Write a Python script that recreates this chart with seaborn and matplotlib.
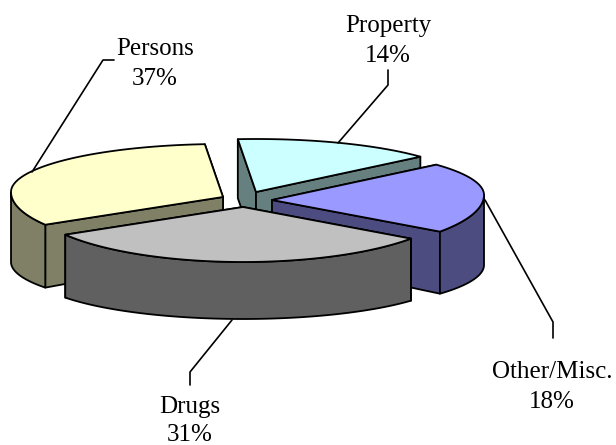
import numpy as np
import pandas as pd
import matplotlib
matplotlib.use("Agg")
import matplotlib.pyplot as plt
import seaborn as sns

# chart data
categories = ["Drugs", "Other/Misc.", "Property", "Persons"]
shares = [31, 18, 14, 37]
top_colors = ["#C0C0C0", "#9999FF", "#CCFFFF", "#FFFFCC"]
side_colors = ["#606060", "#4C4C80", "#668080", "#808066"]

sns.set_theme(style="white")
plt.rcParams["font.family"] = ["Liberation Serif", "DejaVu Serif"]

df = pd.DataFrame({"name": categories, "share": shares, "top": top_colors, "side": side_colors})

# -----------------------------
# pie geometry (pixel-like axes)
# -----------------------------
a = 212              # horizontal radius
start = 217.8        # where the first slice starts
view = complex(-0.09, -0.013)   # fake perspective, squeezes the left side

# where each exploded slice has its tip
tips = {"Drugs": (243, 207), "Other/Misc.": (272, 200),
        "Property": (256, 192), "Persons": (223, 197)}


def project(theta, tip):
    z = np.exp(1j * np.radians(theta))
    z = (z + view) / (1 + np.conj(view) * z)
    # disc is seen from above, near half looks deeper than the far half
    y_top = tip[1] - 5 - np.where(z.imag > 0, 48, 60) * z.imag
    y_bot = tip[1] + 65 - np.where(z.imag > 0, 59, 47) * z.imag
    return tip[0] + a * z.real, y_top, y_bot, z.imag < 0


fig = plt.figure(figsize=(6.16, 4.45), dpi=100)
ax = fig.add_axes([0, 0, 1, 1])
ax.set_xlim(0, 616)
ax.set_ylim(445, 0)
ax.axis("off")

df["theta1"] = start + df["share"].cumsum().shift(fill_value=0) * 3.6
df["theta2"] = start + df["share"].cumsum() * 3.6

# back slices first
for name in ["Property", "Persons", "Other/Misc.", "Drugs"]:
    row = df[df["name"] == name].iloc[0]
    tip = tips[name]
    x, y, y2, front = project(np.linspace(row["theta1"], row["theta2"], 200), tip)
    edge = dict(edgecolor="black", linewidth=1.3, joinstyle="round")

    # cut walls, the one further back goes first
    ends = sorted([(x[0], y[0], y2[0]), (x[-1], y[-1], y2[-1])], key=lambda p: p[1])
    for ex, ey, ey2 in ends:
        ax.fill([tip[0], ex, ex, tip[0]], [tip[1], ey, ey2, tip[1] + 58],
                facecolor=row["side"], **edge)
    # outer wall, only the near part of the rim can be seen
    if front.any():
        fx, fy, fy2 = x[front], y[front], y2[front]
        ax.fill(np.r_[fx, fx[::-1]], np.r_[fy, fy2[::-1]], facecolor=row["side"], **edge)
    # top face
    ax.fill(np.r_[tip[0], x], np.r_[tip[1], y], facecolor=row["top"], **edge)

# -----------------------------
# leaders and labels
# -----------------------------
leaders = {"Persons": ([32, 103, 114], [172, 60, 60]),
           "Property": ([338, 388, 388], [143, 85, 70]),
           "Other/Misc.": ([485, 553, 553], [200, 322, 338]),
           "Drugs": ([232, 190, 190], [320, 372, 385])}
label_pos = {"Persons": (155, 55, 85), "Property": (388, 32, 62),
             "Other/Misc.": (552, 378, 408), "Drugs": (190, 413, 441)}

for name, share in zip(categories, shares):
    ax.plot(*leaders[name], color="black", linewidth=1.2, zorder=1)
    lx, y1, y2 = label_pos[name]
    ax.text(lx, y1, name, ha="center", va="baseline", fontsize=18, color="black")
    ax.text(lx, y2, f"{share}%", ha="center", va="baseline", fontsize=18, color="black")

fig.savefig("out.png", dpi=100)
